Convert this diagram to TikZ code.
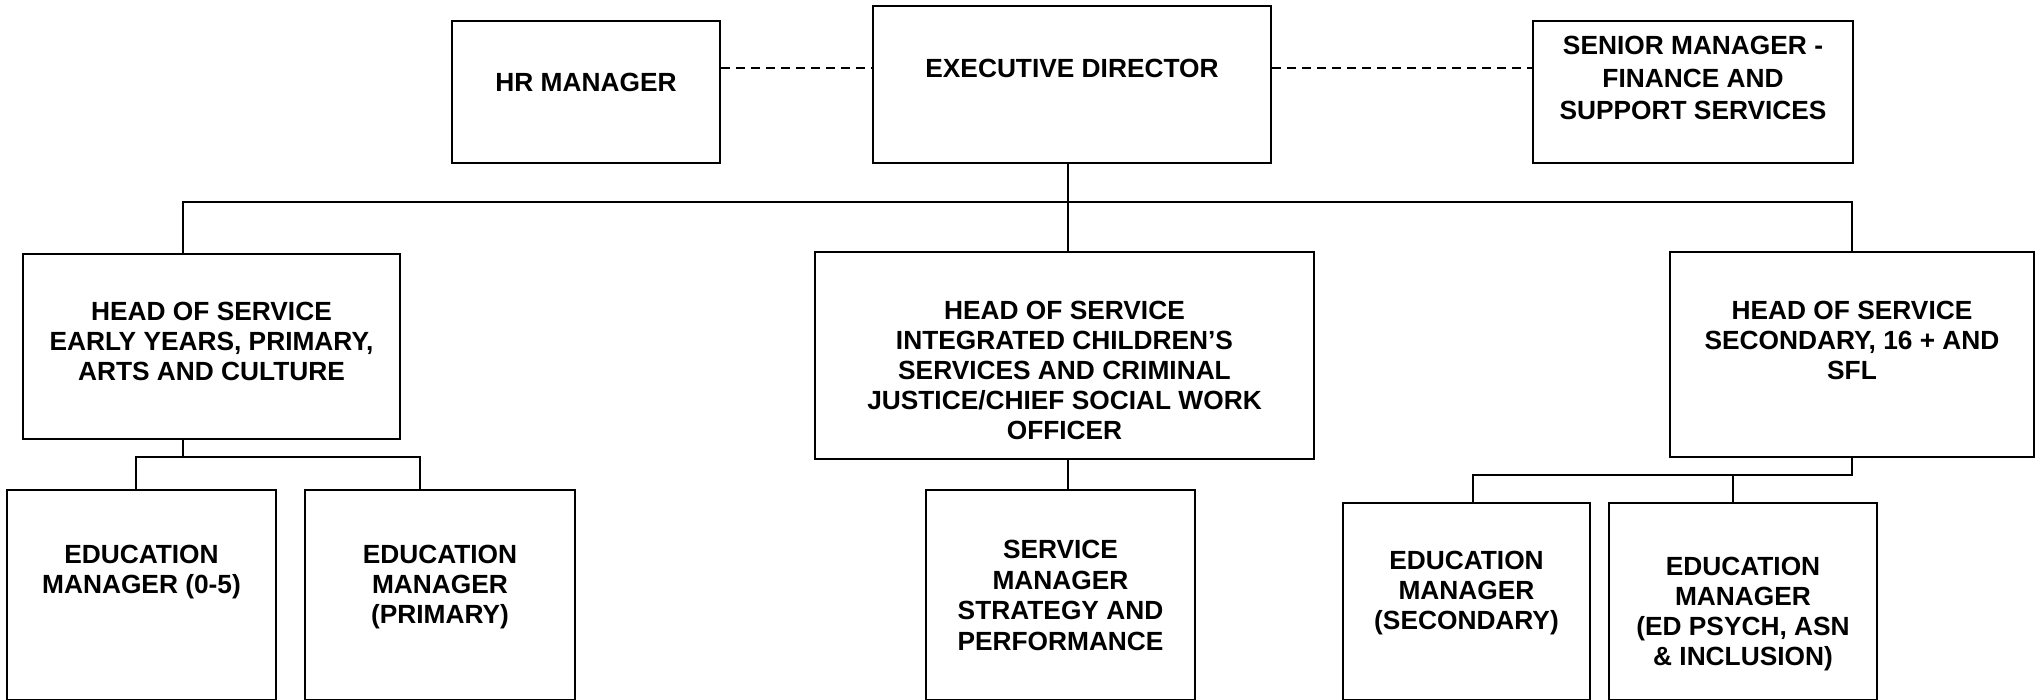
\documentclass[tikz,border=0pt]{standalone}
\usepackage{fontspec}
\setmainfont{Liberation Sans}
\usepackage{tikz}
\usetikzlibrary{positioning}

\begin{document}
\begin{tikzpicture}[x=1pt,y=-1pt]
\tikzstyle{every node}+=[inner sep=0pt]
\tikzstyle{post}=[draw=black, line width=2pt, rectangle]
\tikzstyle{title}=[align=center, font=\fontsize{26.3}{30}\selectfont\bfseries]
\tikzstyle{link}=[black, line width=1.5pt]
\tikzstyle{dotlink}=[black, line width=1.5pt, dash pattern=on 9pt off 6pt]
\useasboundingbox (0,0) rectangle (2044,700);
% top row
\node [post, minimum width=268pt, minimum height=142pt] (hr) at (586,92) {};
\node [title, below=53pt of hr.north] (hrtext) {HR MANAGER};
\node [post, minimum width=398pt, minimum height=157pt] (exec) at (1072,84.5) {};
\node [title, below=54pt of exec.north] (exectext) {EXECUTIVE DIRECTOR};
\node [post, minimum width=320pt, minimum height=142pt] (fin) at (1693,92) {};
\node [title, below=16pt of fin.north] (fintext) {SENIOR MANAGER -\\[2.5pt]FINANCE AND\\[2.5pt]SUPPORT SERVICES};
% heads of service
\node [post, minimum width=377pt, minimum height=185pt] (hos1) at (211.5,346.5) {};
\node [title, below=49pt of hos1.north] (hos1text) {HEAD OF SERVICE\\EARLY YEARS, PRIMARY,\\ARTS AND CULTURE};
\node [post, minimum width=499pt, minimum height=207pt] (hos2) at (1064.5,355.5) {};
\node [title, below=50pt of hos2.north] (hos2text) {HEAD OF SERVICE\\INTEGRATED CHILDREN’S\\SERVICES AND CRIMINAL\\JUSTICE/CHIEF SOCIAL WORK\\OFFICER};
\node [post, minimum width=364pt, minimum height=205pt] (hos3) at (1852,354.5) {};
\node [title, below=50pt of hos3.north] (hos3text) {HEAD OF SERVICE\\SECONDARY, 16 + AND\\SFL};
% managers
\node [post, minimum width=269pt, minimum height=210pt] (early) at (141.5,595) {};
\node [title, below=56pt of early.north] (earlytext) {EDUCATION\\MANAGER (0-5)};
\node [post, minimum width=270pt, minimum height=210pt] (prim) at (440,595) {};
\node [title, below=56pt of prim.north] (primtext) {EDUCATION\\MANAGER\\(PRIMARY)};
\node [post, minimum width=269pt, minimum height=210pt] (strat) at (1060.5,595) {};
\node [title, below=51pt of strat.north] (strattext) {SERVICE\\[0.5pt]MANAGER\\[0.5pt]STRATEGY AND\\[0.5pt]PERFORMANCE};
\node [post, minimum width=247pt, minimum height=197pt] (sec) at (1466.5,601.5) {};
\node [title, below=49pt of sec.north] (sectext) {EDUCATION\\MANAGER\\(SECONDARY)};
\node [post, minimum width=268pt, minimum height=197pt] (asn) at (1743,601.5) {};
\node [title, below=55pt of asn.north] (asntext) {EDUCATION\\MANAGER\\(ED PSYCH, ASN\\\& INCLUSION)};
% bus lines and drops
\coordinate (dash) at (0,68);
\coordinate (bus) at (0,202);
\coordinate (bus1) at (0,457);
\coordinate (bus3) at (0,475);
\coordinate (drop1) at (183,0);
\coordinate (drop2) at (1068,0);
\coordinate (dropa) at (136,0);
\coordinate (dropb) at (420,0);
\coordinate (dropc) at (1473,0);
\coordinate (dropd) at (1733,0);
\draw [dotlink] (hr.east |- dash) -- (exec.west |- dash);
\draw [dotlink] (exec.east |- dash) -- (fin.west |- dash);
\draw [link] (drop2 |- exec.south) -- (drop2 |- hos2.north);
\draw [link] (drop1 |- hos1.north) -- (drop1 |- bus) -- (hos3.north |- bus) -- (hos3.north);
\draw [link] (drop1 |- hos1.south) -- (drop1 |- bus1);
\draw [link] (dropa |- early.north) -- (dropa |- bus1) -- (dropb |- bus1) -- (dropb |- prim.north);
\draw [link] (drop2 |- hos2.south) -- (drop2 |- strat.north);
\draw [link] (hos3.south) -- (hos3.south |- bus3) -- (dropc |- bus3) -- (dropc |- sec.north);
\draw [link] (dropd |- bus3) -- (dropd |- asn.north);
\end{tikzpicture}
\end{document}
